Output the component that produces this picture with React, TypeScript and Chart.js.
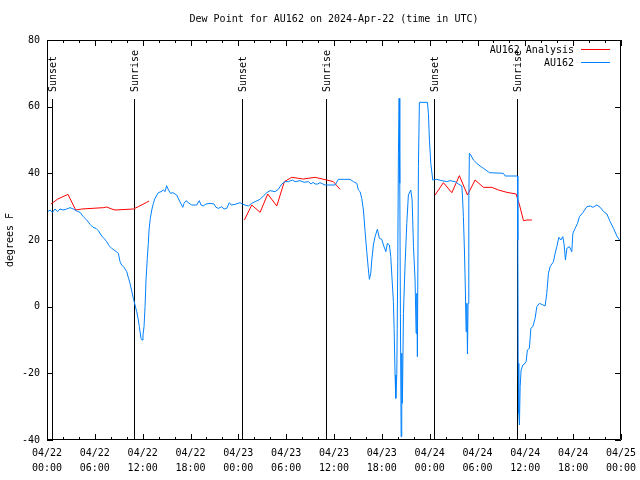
import React, { useEffect, useRef } from "react";
import { Chart, registerables } from "chart.js";

Chart.register(...registerables);

const chartTitle = "Dew Point for AU162 on 2024-Apr-22 (time in UTC)";
const yAxisTitle = "degrees F";
const analysisLabel = "AU162 Analysis";
const stationLabel = "AU162";

// Hours since 04/22 00:00 UTC
const xTickDates = ["04/22", "04/22", "04/22", "04/22", "04/23", "04/23", "04/23", "04/23", "04/24", "04/24", "04/24", "04/24", "04/25"];
const xTickTimes = ["00:00", "06:00", "12:00", "18:00", "00:00", "06:00", "12:00", "18:00", "00:00", "06:00", "12:00", "18:00", "00:00"];

const sunEventHours = [0.59, 10.96, 24.5, 35.05, 48.6, 59.0];
const sunEventLabels = ["Sunset", "Sunrise", "Sunset", "Sunrise", "Sunset", "Sunrise"];
const sunLineTop = 62.3;

// AU162 Analysis (red); null breaks the line
const analysisHours = [
  0.5, 1.36, 2.0, 2.63, 3.6, 4.35, 7.07, 7.49, 8.12, 8.53, 10.83, 11.46, 12.5, 12.8,
  13.5,
  24.76, 25.68, 26.73, 27.69, 28.82, 29.77, 30.7, 32.16, 33.63, 35.09, 35.92, 36.76,
  37.5,
  48.68, 49.72, 50.78, 51.73, 52.74, 53.7, 54.74, 55.8, 56.63, 57.68, 58.85, 59.0, 59.27, 59.77, 60.19, 60.82,
];
const analysisValues = [
  30.8, 32.3, 33.0, 33.7, 29.0, 29.3, 29.7, 29.9, 29.3, 29.0, 29.3, 30.0, 31.3, 31.7,
  null,
  26.0, 30.5, 28.3, 33.8, 30.2, 37.5, 38.8, 38.3, 38.8, 38.0, 37.5, 35.2,
  null,
  33.5, 37.2, 34.2, 39.3, 33.5, 38.0, 35.8, 35.8, 35.0, 34.3, 33.8, 32.5, 30.5, 25.8, 26.0, 26.0,
];

// AU162 station (blue)
const stationHours = [
  0.09, 0.38, 0.69, 1.0, 1.32, 1.63, 2.0, 2.47, 2.89, 3.3, 3.73, 4.14, 4.55, 4.98, 5.4, 5.77, 6.15, 6.44, 6.86, 7.15,
  7.49, 7.78, 8.12, 8.53, 8.95, 9.16, 9.37, 9.66, 10.0, 10.23, 10.41, 10.6, 10.83, 11.04, 11.25, 11.42, 11.58, 11.79, 11.92, 12.04,
  12.17, 12.3, 12.42, 12.58, 12.71, 12.8, 12.96, 13.14, 13.34, 13.55, 13.96, 14.3, 14.59, 14.81, 15.0, 15.24, 15.5, 15.8, 16.27, 16.56,
  17.03, 17.19, 17.44, 17.82, 18.16, 18.78, 19.1, 19.32, 19.6, 19.95, 20.45, 20.95, 21.2, 21.5, 21.92, 22.21, 22.55, 22.87, 23.09, 23.59,
  24.22, 24.47, 24.84, 25.26, 25.68, 26.1, 26.73, 27.14, 27.57, 27.98, 28.61, 29.02, 29.45, 29.86, 30.28, 30.78, 31.12, 31.74, 32.25, 32.79,
  33.12, 33.38, 33.63, 33.96, 34.25, 34.88, 36.14, 36.55, 36.76, 38.02, 38.43, 38.86, 39.06, 39.27, 39.48, 39.69, 39.9, 40.11, 40.28, 40.44,
  40.61, 40.74, 40.94, 41.15, 41.44, 41.69, 41.99, 42.2, 42.5, 42.7, 42.95, 43.12, 43.29, 43.45, 43.54, 43.66, 43.75, 43.88, 44.0, 44.08,
  44.17, 44.25, 44.33, 44.42, 44.5, 44.58, 44.71, 44.92, 45.13, 45.33, 45.63, 45.8, 45.97, 46.17, 46.3, 46.39, 46.46, 46.59, 46.71, 47.72,
  47.84, 47.97, 48.14, 48.39, 48.9, 49.52, 50.15, 50.56, 51.19, 51.61, 52.03, 52.11, 52.23, 52.36, 52.48, 52.57, 52.66, 52.74, 52.82, 52.91,
  52.98, 53.16, 53.49, 53.91, 54.33, 54.74, 55.5, 57.25, 57.47, 59.01, 59.06, 59.1, 59.18, 59.26, 59.35, 59.47, 59.69, 59.97, 60.1, 60.26,
  60.51, 60.69, 60.94, 61.23, 61.44, 61.77, 62.48, 62.69, 62.9, 63.11, 63.53, 63.74, 63.95, 64.2, 64.45, 64.7, 64.87, 65.03, 65.21, 65.53,
  65.83, 65.96, 66.25, 66.54, 66.79, 67.21, 67.72, 68.13, 68.47, 68.97, 69.39, 69.82, 70.23, 70.64, 71.06, 71.48, 71.81,
];
const stationValues = [
  28.5, 29.0, 28.3, 29.3, 28.5, 29.3, 29.0, 29.3, 29.7, 29.3, 28.7, 28.3, 27.0, 26.0, 24.7, 23.8, 23.5, 22.8, 21.2, 20.5,
  19.5, 18.3, 17.5, 16.8, 16.0, 13.5, 12.5, 11.8, 10.5, 8.5, 7.0, 5.0, 2.5, 0.5, -1.5, -3.5, -6.0, -9.5, -10.0, -8.5,
  -6.0, 0.0, 8.0, 14.5, 19.0, 23.0, 26.5, 29.0, 31.0, 32.5, 34.2, 34.5, 35.0, 34.5, 36.3, 35.0, 34.0, 34.2, 33.5, 32.0,
  29.8, 31.0, 31.8, 31.0, 30.5, 30.5, 31.8, 30.5, 30.2, 30.8, 31.0, 30.8, 29.8, 29.5, 30.0, 29.3, 29.5, 31.2, 30.5, 30.7,
  31.2, 30.8, 30.5, 30.2, 31.0, 31.5, 32.2, 33.2, 34.2, 34.8, 34.5, 35.2, 36.8, 37.5, 37.5, 38.0, 37.5, 37.8, 37.3, 37.5,
  36.8, 37.3, 36.8, 36.8, 37.2, 36.5, 36.5, 38.2, 38.2, 38.2, 37.5, 37.0, 35.0, 34.5, 32.5, 29.0, 22.5, 16.5, 12.0, 8.2,
  10.0, 14.0, 18.5, 21.0, 23.2, 20.5, 20.2, 18.5, 16.5, 19.0, 18.5, 15.0, 8.0, 1.5, -6.5, -20.5, -27.5, -20.0, 13.5, 46.0,
  62.5, 37.0, -2.0, -39.0, -14.0, -29.0, -2.0, 13.0, 25.0, 33.5, 35.0, 32.0, 18.0, 8.0, -8.0, 4.0, -15.0, 42.0, 61.3, 61.3,
  58.0, 50.0, 43.0, 38.0, 38.2, 37.8, 37.5, 37.8, 37.5, 36.8, 36.2, 33.5, 27.0, 17.0, 5.0, -7.5, 1.0, -14.2, 1.0, 31.0,
  46.0, 45.5, 44.0, 43.0, 42.2, 41.5, 40.2, 40.0, 39.2, 39.2, 20.0, -17.0, -32.0, -35.5, -24.0, -19.0, -17.5, -17.0, -16.5, -13.0,
  -12.5, -6.5, -6.0, -3.5, 0.0, 1.0, 0.2, 4.0, 10.0, 12.0, 13.5, 16.0, 18.0, 20.8, 20.0, 21.0, 18.5, 14.0, 17.5, 18.0,
  16.5, 22.0, 23.5, 25.0, 27.0, 28.2, 30.0, 30.2, 29.8, 30.5, 29.8, 28.5, 27.8, 25.5, 23.5, 21.2, 20.0,
];

const FONT = "'DejaVu Sans Mono', 'Liberation Mono', monospace";
const RED = "#ff0000";
const BLUE = "#0080ff";

const gnuplotPlugin = {
  id: "gnuplotDecor",
  beforeDatasetsDraw(chart: any) {
    const { ctx, chartArea, scales } = chart;
    const x = scales.x;
    const y = scales.y;
    ctx.save();
    ctx.strokeStyle = "#000";
    ctx.fillStyle = "#000";
    ctx.lineWidth = 1;
    ctx.font = "10px " + FONT;
    sunEventHours.forEach((h, i) => {
      const px = Math.round(x.getPixelForValue(h)) + 0.5;
      const top = Math.round(y.getPixelForValue(sunLineTop));
      ctx.beginPath();
      ctx.moveTo(px, top);
      ctx.lineTo(px, chartArea.bottom);
      ctx.stroke();
      ctx.save();
      ctx.translate(px + 1, top - 7);
      ctx.rotate(-Math.PI / 2);
      ctx.textAlign = "left";
      ctx.textBaseline = "middle";
      ctx.fillText(sunEventLabels[i], 0, 0);
      ctx.restore();
    });
    ctx.restore();
  },
  afterDraw(chart: any) {
    const { ctx, chartArea, scales } = chart;
    const x = scales.x;
    const y = scales.y;
    const { left, right, top, bottom } = chartArea;
    ctx.save();
    ctx.strokeStyle = "#000";
    ctx.lineWidth = 1;
    ctx.beginPath();
    ctx.rect(left + 0.5, top + 0.5, right - left - 1, bottom - top - 1);
    ctx.stroke();
    // x ticks (inward, mirrored)
    x.ticks.forEach((t: any) => {
      const px = Math.round(x.getPixelForValue(t.value)) + 0.5;
      const len = t.value % 6 === 0 ? 6 : 3;
      ctx.beginPath();
      ctx.moveTo(px, bottom);
      ctx.lineTo(px, bottom - len);
      ctx.moveTo(px, top);
      ctx.lineTo(px, top + len);
      ctx.stroke();
    });
    // y ticks
    y.ticks.forEach((t: any) => {
      const py = Math.round(y.getPixelForValue(t.value)) + 0.5;
      ctx.beginPath();
      ctx.moveTo(left, py);
      ctx.lineTo(left + 6, py);
      ctx.moveTo(right, py);
      ctx.lineTo(right - 6, py);
      ctx.stroke();
    });
    // title
    ctx.fillStyle = "#000";
    ctx.font = "10px " + FONT;
    ctx.textAlign = "center";
    ctx.textBaseline = "middle";
    ctx.fillText(chartTitle, (left + right) / 2, 19);
    // legend
    const entries = [
      { label: analysisLabel, color: RED },
      { label: stationLabel, color: BLUE },
    ];
    entries.forEach((e, i) => {
      const ly = 50 + i * 13;
      ctx.fillStyle = "#000";
      ctx.textAlign = "right";
      ctx.fillText(e.label, 574, ly);
      ctx.strokeStyle = e.color;
      ctx.beginPath();
      ctx.moveTo(581, Math.round(ly) - 0.5);
      ctx.lineTo(610, Math.round(ly) - 0.5);
      ctx.stroke();
    });
    ctx.restore();
  },
};

export default function App() {
  const canvasRef = useRef<HTMLCanvasElement | null>(null);

  useEffect(() => {
    const canvas = canvasRef.current;
    if (!canvas) return;
    const analysisData = analysisHours.map((h, i) => ({ x: h, y: analysisValues[i] }));
    const stationData = stationHours.map((h, i) => ({ x: h, y: stationValues[i] }));
    const chart = new Chart(canvas, {
      type: "line",
      data: {
        datasets: [
          {
            label: stationLabel,
            data: stationData as any,
            borderColor: BLUE,
            borderWidth: 1,
            pointRadius: 0,
            tension: 0,
            spanGaps: false,
          },
          {
            label: analysisLabel,
            data: analysisData as any,
            borderColor: RED,
            borderWidth: 1,
            pointRadius: 0,
            tension: 0,
            spanGaps: false,
          },
        ],
      },
      options: {
        animation: false,
        responsive: false,
        devicePixelRatio: 1,
        layout: { padding: { left: 0, right: 19, top: 40, bottom: 0 } },
        plugins: {
          legend: { display: false },
          tooltip: { enabled: false },
          title: { display: false },
        },
        scales: {
          x: {
            type: "linear",
            min: 0,
            max: 72,
            grid: { display: false, drawTicks: false },
            border: { display: false },
            afterFit: (s: any) => {
              s.height = 40;
              s.paddingLeft = 0;
              s.paddingRight = 0;
            },
            ticks: {
              stepSize: 2,
              autoSkip: false,
              maxRotation: 0,
              padding: 6,
              color: "#000",
              font: { family: FONT, size: 10, lineHeight: 1.5 },
              callback: (v: any) => {
                const n = Number(v);
                if (n % 6 !== 0) return "";
                const idx = n / 6;
                return [xTickDates[idx], xTickTimes[idx]];
              },
            },
          },
          y: {
            type: "linear",
            min: -40,
            max: 80,
            grid: { display: false, drawTicks: false },
            border: { display: false },
            afterFit: (s: any) => {
              s.width = 47;
              s.paddingTop = 0;
              s.paddingBottom = 0;
            },
            title: {
              display: true,
              text: yAxisTitle,
              color: "#000",
              font: { family: FONT, size: 10 },
            },
            ticks: {
              stepSize: 20,
              padding: 7,
              color: "#000",
              font: { family: FONT, size: 10 },
            },
          },
        },
      },
      plugins: [gnuplotPlugin],
    });
    return () => chart.destroy();
  }, []);

  return (
    <div style={{ position: "fixed", left: 0, top: 0, width: 640, height: 480, background: "#fff" }}>
      <canvas ref={canvasRef} width={640} height={480} />
    </div>
  );
}
